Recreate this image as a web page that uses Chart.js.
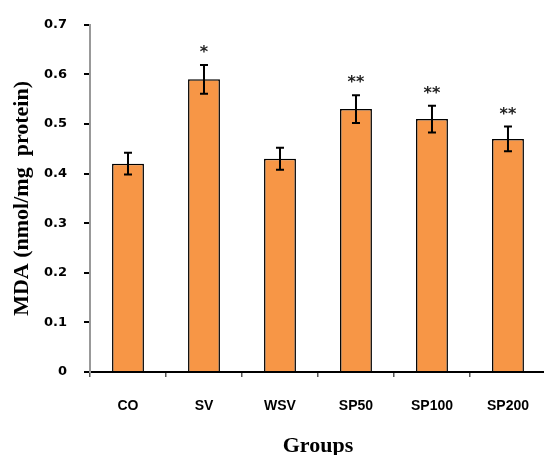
<!DOCTYPE html>
<html>
<head>
<meta charset="utf-8">
<script src="https://cdn.jsdelivr.net/npm/chart.js@4"></script>
<style>
  body { margin: 0; background: #fff; overflow: hidden; }
  #wrap { width: 550px; height: 455px; }
</style>
</head>
<body>
<div id="wrap"><canvas id="mdaChart" width="550" height="455"></canvas></div>
<script>
// values
const groups = ["CO", "SV", "WSV", "SP50", "SP100", "SP200"];
const mdaValues = [0.42, 0.59, 0.43, 0.53, 0.51, 0.47];
const mdaErrors = [0.022, 0.029, 0.022, 0.028, 0.027, 0.025];
const significance = ["", "*", "", "**", "**", "**"];
const yTicks = [0, 0.1, 0.2, 0.3, 0.4, 0.5, 0.6, 0.7];

// error bars + stars drawn after the bars
const errorBarPlugin = {
  id: "errorBars",
  afterDatasetsDraw(chart) {
    const ctx = chart.ctx;
    const meta = chart.getDatasetMeta(0);
    const y = chart.scales.y;
    ctx.save();
    ctx.strokeStyle = "#000";
    ctx.lineWidth = 2;
    meta.data.forEach((bar, i) => {
      const x = bar.x;
      const top = y.getPixelForValue(mdaValues[i] + mdaErrors[i]);
      const bot = y.getPixelForValue(mdaValues[i] - mdaErrors[i]);
      ctx.beginPath();
      ctx.moveTo(x, top); ctx.lineTo(x, bot);
      ctx.moveTo(x - 4, top); ctx.lineTo(x + 4, top);
      ctx.moveTo(x - 4, bot); ctx.lineTo(x + 4, bot);
      ctx.stroke();
      if (significance[i]) {
        ctx.fillStyle = "#222";
        ctx.font = "bold 16px 'DejaVu Sans'";
        ctx.textAlign = "center";
        ctx.textBaseline = "middle";
        ctx.fillText(significance[i], x, top - 12);
      }
    });
    ctx.restore();
  }
};

new Chart(document.getElementById("mdaChart"), {
  type: "bar",
  data: {
    labels: groups,
    datasets: [{
      data: mdaValues,
      backgroundColor: "#F79646",
      borderColor: "#000",
      borderWidth: 1.5,
      barPercentage: 0.42,
      categoryPercentage: 1
    }]
  },
  options: {
    responsive: false,
    animation: false,
    layout: { padding: { top: 22, right: 0, left: 0, bottom: 0 } },
    plugins: { legend: { display: false }, tooltip: { enabled: false } },
    scales: {
      x: {
        afterFit(scale) { scale.height = 83; },
        grid: { drawOnChartArea: false, drawTicks: true, tickLength: 5, color: "#555", lineWidth: 1.5 },
        border: { color: "#000", width: 2 },
        ticks: { color: "#000", padding: 21, font: { family: "'Liberation Sans'", size: 14, weight: "bold" } },
        title: {
          display: true, text: "Groups", color: "#000",
          font: { family: "'Liberation Serif'", size: 22, weight: "bold", lineHeight: 1 },
          padding: { top: 0, bottom: -2 }
        }
      },
      y: {
        min: 0, max: 0.7,
        afterFit(scale) { scale.width = 90; },
        afterBuildTicks(scale) { scale.ticks = yTicks.map(v => ({ value: v })); },
        grid: { drawOnChartArea: false, drawTicks: true, tickLength: 6, color: "#000", lineWidth: 2 },
        border: { color: "#999", width: 2 },
        ticks: {
          color: "#000", padding: 17,
          font: { family: "'DejaVu Sans'", size: 13, weight: "bold" },
          callback: v => v === 0 ? "0" : v.toFixed(1)
        },
        title: {
          display: true, text: "MDA (nmol/mg  protein)", color: "#000",
          font: { family: "'Liberation Serif'", size: 22, weight: "bold", lineHeight: 1 },
          padding: { top: 11, bottom: 0 }
        }
      }
    }
  },
  plugins: [errorBarPlugin]
});
</script>
</body>
</html>
